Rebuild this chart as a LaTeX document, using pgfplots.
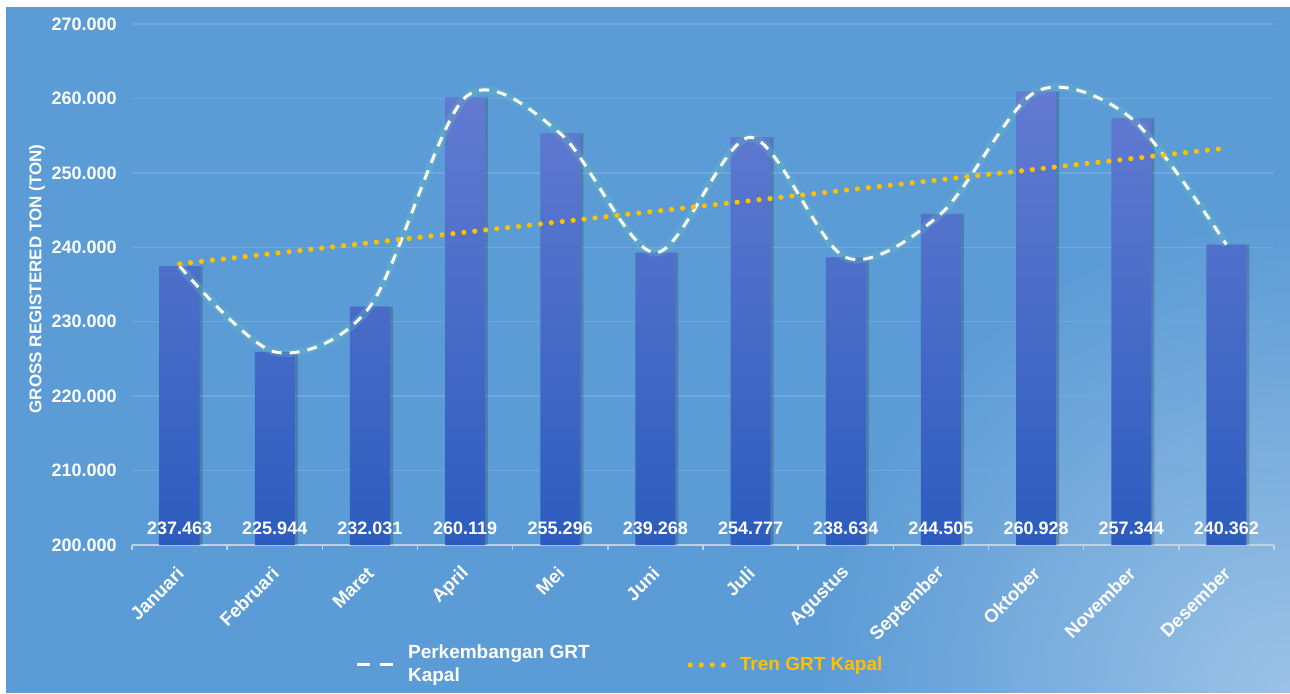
\documentclass[border=0pt]{standalone}
\usepackage{fontspec}
\setmainfont{Liberation Sans}
\usepackage{pgfplots}
\pgfplotsset{compat=1.18}
\usetikzlibrary{fadings}
\definecolor{bg}{RGB}{91,155,214}
\definecolor{gridc}{RGB}{110,168,222}
\definecolor{axisc}{RGB}{190,210,230}
\definecolor{bartop}{RGB}{99,123,209}
\definecolor{barbot}{RGB}{44,92,190}
\definecolor{gold}{RGB}{255,192,0}
\definecolor{glow}{RGB}{110,200,190}
\tikzfading[name=glowfade, inner color=transparent!0, outer color=transparent!100]
\begin{document}
\begin{tikzpicture}
\useasboundingbox (0,0) rectangle (645pt,346.5pt);
\fill[white] (0,0) rectangle (645pt,346.5pt);
\fill[bg] (3pt,0) rectangle (645pt,343pt);
\begin{scope}
  \clip (3pt,0) rectangle (645pt,343pt);
  \fill[white, fill opacity=0.4, path fading=glowfade] (645pt,0pt) circle (240pt);
\end{scope}
\begin{axis}[
  at={(66pt,74pt)}, anchor=south west, scale only axis,
  width=571pt, height=260.5pt,
  xmin=-0.5, xmax=11.5, ymin=200, ymax=270,
  axis lines*=left,
  x axis line style={draw=axisc, line width=0.7pt},
  y axis line style={draw=none},
  ytick={200,210,...,270},
  yticklabels={200.000,210.000,220.000,230.000,240.000,250.000,260.000,270.000},
  ytick style={draw=none},
  ymajorgrids, grid style={gridc, line width=0.7pt},
  xtick={0,...,11},
  xticklabels={Januari,Februari,Maret,April,Mei,Juni,Juli,Agustus,September,Oktober,November,Desember},
  major tick length=0pt,
  minor xtick={-0.5,0.5,...,11.5},
  minor tick length=2.5pt,
  tick align=outside,
  every minor tick/.append style={draw=axisc, line width=0.7pt},
  every tick label/.append style={text=white, font=\bfseries\fontsize{9}{10}\selectfont},
  yticklabel style={anchor=east, inner sep=0pt, xshift=-7.5pt},
  xticklabel style={xshift=0.5pt, yshift=-12.5pt, rotate=45, anchor=east, inner sep=0pt,
    font=\bfseries\fontsize{9.3}{10}\selectfont},
  legend style={at={(0.195,-0.2303)}, anchor=west, draw=none, fill=none, inner sep=0pt,
    legend columns=2, text=white, font=\bfseries\fontsize{9.5}{11.5}\selectfont,
    nodes={align=left},
    /tikz/every odd column/.append style={column sep=5pt},
    /tikz/every even column/.append style={column sep=47pt}},
  legend cell align=left,
]
% bar shadow
\addplot[ybar, bar width=20pt, bar shift=1.5pt, draw=none, fill=black, fill opacity=0.18, forget plot]
  coordinates {(0,237.463) (1,225.944) (2,232.031) (3,260.119) (4,255.296) (5,239.268)
               (6,254.777) (7,238.634) (8,244.505) (9,260.928) (10,257.344) (11,240.362)};
% bars
\addplot[ybar, bar width=20pt, bar shift=0pt, draw=none, top color=bartop, bottom color=barbot, forget plot]
  coordinates {(0,237.463) (1,225.944) (2,232.031) (3,260.119) (4,255.296) (5,239.268)
               (6,254.777) (7,238.634) (8,244.505) (9,260.928) (10,257.344) (11,240.362)};
% value labels at the base of the bars
\addplot[draw=none, forget plot, nodes near coords, point meta=explicit symbolic,
  nodes near coords style={anchor=base, yshift=5.5pt, inner sep=0pt, text=white,
    font=\bfseries\fontsize{9}{10}\selectfont}]
  coordinates {(0,200)[237.463] (1,200)[225.944] (2,200)[232.031] (3,200)[260.119]
               (4,200)[255.296] (5,200)[239.268] (6,200)[254.777] (7,200)[238.634]
               (8,200)[244.505] (9,200)[260.928] (10,200)[257.344] (11,200)[240.362]};
% glow under the smooth line
\addplot[glow, opacity=0.25, line width=4pt, smooth, forget plot]
  coordinates {(0,237.463) (1,225.944) (2,232.031) (3,260.119) (4,255.296) (5,239.268)
               (6,254.777) (7,238.634) (8,244.505) (9,260.928) (10,257.344) (11,240.362)};
\addplot[white, line width=1.5pt, dash pattern=on 5pt off 4pt, smooth,
  legend image code/.code={\draw[white, line width=1.5pt, dash pattern=on 6.5pt off 5pt] (0pt,0pt) -- (18pt,0pt);}]
  coordinates {(0,237.463) (1,225.944) (2,232.031) (3,260.119) (4,255.296) (5,239.268)
               (6,254.777) (7,238.634) (8,244.505) (9,260.928) (10,257.344) (11,240.362)};
\addlegendentry{Perkembangan GRT\\Kapal}
\addplot[gold, line width=2.6pt, line cap=round, dash pattern=on 0pt off 5.5pt,
  legend image code/.code={\draw[gold, line width=2.6pt, line cap=round, dash pattern=on 0pt off 5.5pt] (1.3pt,0pt) -- (17.8pt,0pt);}]
  coordinates {(0,237.78) (11,253.33)};
\addlegendentry{\textcolor{gold}{Tren GRT Kapal}}
\end{axis}
\node[rotate=90, text=white, font=\bfseries\fontsize{8.5}{10}\selectfont] at (18.5pt,207pt) {GROSS REGISTERED TON (TON)};
\end{tikzpicture}
\end{document}
